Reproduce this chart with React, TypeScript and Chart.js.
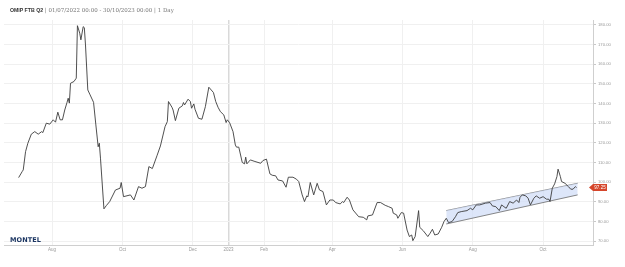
import React, { useEffect, useRef } from 'react';
import { Chart, registerables } from 'chart.js';
Chart.register(...registerables);

// Days since 01/07/2022
const DAYS = [
  2, 5, 6, 8, 10, 13, 16, 19, 22, 23, 26, 29, 32, 34, 36, 38, 40, 42, 44, 45, 46, 47, 50, 52, 53, 55, 56, 58, 59, 60,
  62, 64, 67, 69, 71, 72, 73, 76, 78, 81, 86, 90, 91, 93, 99, 102, 106, 109, 112, 115, 118, 122, 125, 129, 131, 132,
  135, 136, 138, 141, 144, 145, 146, 149, 151, 152, 154, 155, 158, 161, 164, 167, 171, 173, 175, 177, 180, 182, 183,
  185, 188, 190, 191, 193, 196, 198, 199, 200, 203, 207, 212, 214, 217, 220, 222, 225, 227, 231, 234, 236, 240, 243,
  245, 248, 250, 252, 253, 255, 258, 261, 263, 266, 269, 272, 275, 277, 281, 283, 284, 287, 289, 292, 297, 301, 304,
  305, 309, 313, 316, 320, 323, 326, 327, 330, 331, 334, 336, 339, 341, 343, 344, 346, 349, 350, 353, 357, 359, 361,
  363, 366, 369, 371, 373, 375, 378, 381, 383, 386, 391, 394, 396, 399, 402, 407, 411, 413, 416, 419, 421, 423, 425,
  428, 431, 434, 436, 437, 439, 442, 444, 446, 449, 451, 454, 457, 460, 462, 463, 465, 467, 469, 470, 472, 473, 476,
  479, 481, 483, 485, 486,
];
const PRICES = [
  102.3, 105.3, 106.2, 115.5, 119.8, 124.4, 125.7, 124.4, 125.7, 125.2, 130.0, 129.5, 131.7, 130.5, 135.6, 131.7,
  131.7, 136.7, 140.6, 142.7, 140.2, 150.3, 151.2, 152.9, 179.6, 175.8, 172.4, 179.1, 178.6, 169.8, 146.9, 144.4,
  140.6, 129.1, 118.0, 119.8, 112.2, 86.4, 88.0, 90.1, 96.0, 96.9, 99.8, 92.6, 93.5, 90.9, 97.7, 96.9, 97.7, 107.9,
  106.9, 113.4, 118.4, 128.2, 130.8, 141.0, 138.1, 136.7, 131.3, 137.6, 138.8, 140.5, 139.3, 142.2, 141.0, 137.6,
  139.8, 137.1, 132.5, 132.0, 138.4, 148.3, 145.6, 141.0, 138.1, 135.9, 134.2, 130.3, 131.7, 130.3, 125.7, 118.9,
  117.8, 117.8, 110.0, 109.3, 112.7, 109.3, 111.3, 110.5, 109.6, 111.0, 111.7, 104.2, 103.5, 103.2, 101.1, 100.6,
  97.4, 102.5, 102.5, 101.5, 100.3, 93.5, 90.1, 93.0, 92.5, 99.8, 93.5, 99.4, 96.0, 95.2, 88.4, 90.9, 90.9, 89.6,
  88.9, 90.1, 89.6, 92.3, 90.9, 85.9, 82.4, 82.1, 80.8, 82.8, 83.3, 89.6, 89.6, 88.2, 87.5, 86.7, 84.2, 83.3, 81.6,
  84.5, 84.2, 75.6, 72.3, 73.1, 70.2, 72.3, 85.5, 77.0, 75.3, 72.3, 74.0, 76.0, 73.1, 73.6, 77.0, 79.9, 81.6, 79.4,
  79.9, 82.4, 84.5, 85.0, 85.5, 86.7, 85.9, 88.4, 88.4, 89.3, 89.6, 87.9, 87.5, 85.5, 88.4, 87.5, 86.7, 90.1, 89.3,
  90.9, 89.6, 92.3, 93.5, 93.0, 91.8, 88.4, 91.8, 93.0, 91.8, 92.6, 91.3, 91.3, 90.1, 96.9, 99.1, 102.8, 106.6, 102.8,
  100.3, 99.4, 97.7, 96.4, 96.4, 97.7, 97.25,
];

const CHANNEL_DAYS = [373, 487];
const CHANNEL_UPPER = [85.5, 99.4];
const CHANNEL_LOWER = [78.7, 93.5];

const TICK_DAYS = [31, 92, 153, 184, 215, 274, 335, 396, 457];
const TICK_LABELS = ['Aug', 'Oct', 'Dec', '2023', 'Feb', 'Apr', 'Jun', 'Aug', 'Oct'];
const YEAR_TICK = 184;
const Y_TICKS = [70, 80, 90, 100, 110, 120, 130, 140, 150, 160, 170, 180];
const LAST_VALUE = 97.25;

const TITLE_BOLD = 'OMIP FTB Q2';
const TITLE_REST = ' | 01/07/2022 00:00 - 30/10/2023 00:00 | 1 Day';

export default function App() {
  const ref = useRef<HTMLCanvasElement>(null);

  useEffect(() => {
    const lastTag = {
      id: 'lastTag',
      afterDatasetsDraw(chart: any) {
        const ctx = chart.ctx;
        const y = chart.scales.y.getPixelForValue(LAST_VALUE);
        const x0 = chart.chartArea.right - 4;
        ctx.save();
        ctx.fillStyle = '#d5462b';
        ctx.beginPath();
        ctx.moveTo(x0, y);
        ctx.lineTo(x0 + 4, y - 3.5);
        ctx.lineTo(x0 + 18, y - 3.5);
        ctx.lineTo(x0 + 18, y + 3.5);
        ctx.lineTo(x0 + 4, y + 3.5);
        ctx.closePath();
        ctx.fill();
        ctx.fillStyle = '#ffffff';
        ctx.font = '4.5px "Liberation Sans"';
        ctx.textAlign = 'center';
        ctx.textBaseline = 'middle';
        ctx.fillText(LAST_VALUE.toFixed(2), x0 + 11, y + 0.3);
        ctx.restore();
      },
    };

    const chart = new Chart(ref.current!, {
      type: 'line',
      data: {
        datasets: [
          {
            data: CHANNEL_DAYS.map((d, i) => ({ x: d, y: CHANNEL_UPPER[i] })),
            borderColor: '#6a6a6a',
            borderWidth: 0.8,
            pointRadius: 0,
            fill: false,
            order: 2,
          },
          {
            data: CHANNEL_DAYS.map((d, i) => ({ x: d, y: CHANNEL_LOWER[i] })),
            borderColor: '#6a6a6a',
            borderWidth: 0.8,
            pointRadius: 0,
            fill: '-1',
            backgroundColor: 'rgba(206,220,247,0.7)',
            order: 1,
          },
          {
            data: DAYS.map((d, i) => ({ x: d, y: PRICES[i] })),
            borderColor: '#3c3c3c',
            borderWidth: 0.9,
            pointRadius: 0,
            tension: 0,
            fill: false,
            order: 0,
          },
        ],
      },
      options: {
        animation: false,
        responsive: false,
        maintainAspectRatio: false,
        layout: { padding: { left: 4, top: 20, right: 0, bottom: 0 } },
        plugins: { legend: { display: false }, tooltip: { enabled: false } },
        scales: {
          x: {
            type: 'linear',
            min: -10.7,
            max: 500.3,
            afterBuildTicks: (s: any) => {
              s.ticks = TICK_DAYS.map((v) => ({ value: v }));
            },
            afterFit: (s: any) => {
              s.height = 22;
            },
            ticks: {
              autoSkip: false,
              maxRotation: 0,
              padding: 2,
              color: '#999',
              font: { family: 'Liberation Sans', size: 4.5 },
              callback: (v: any) => {
                const i = TICK_DAYS.indexOf(Number(v));
                return i >= 0 ? TICK_LABELS[i] : '';
              },
            },
            grid: {
              drawTicks: false,
              color: (c: any) => (c.tick && c.tick.value === YEAR_TICK ? '#d9d9d9' : '#f0f0f0'),
              lineWidth: (c: any) => (c.tick && c.tick.value === YEAR_TICK ? 1.5 : 1),
            },
            border: { color: '#cfcfcf' },
          },
          y: {
            type: 'linear',
            position: 'right',
            min: 68,
            max: 182.5,
            afterBuildTicks: (s: any) => {
              s.ticks = Y_TICKS.map((v) => ({ value: v }));
            },
            afterFit: (s: any) => {
              s.width = 32;
            },
            ticks: {
              padding: 2,
              color: '#999',
              font: { family: 'Liberation Sans', size: 4.2 },
              callback: (v: any) => Number(v).toFixed(2),
            },
            grid: {
              color: '#f0f0f0',
              drawTicks: true,
              tickLength: 3,
              tickColor: '#c8c8c8',
            },
            border: { color: '#cfcfcf' },
          },
        },
      },
      plugins: [lastTag],
    } as any);
    return () => chart.destroy();
  }, []);

  return (
    <div style={{ position: 'fixed', left: 0, top: 0, width: 625, height: 267, background: '#fff' }}>
      <canvas ref={ref} width={625} height={267} style={{ display: 'block' }} />
      <div
        style={{
          position: 'absolute',
          left: 10,
          top: 7,
          fontSize: '5.5px',
          lineHeight: '6px',
          whiteSpace: 'nowrap',
          color: '#777',
          fontFamily: '"DejaVu Serif", serif',
        }}
      >
        <span style={{ fontFamily: '"Liberation Sans", sans-serif', fontWeight: 'bold', color: '#333', fontSize: '5.2px' }}>
          {TITLE_BOLD}
        </span>
        <span>{TITLE_REST}</span>
      </div>
      <div
        style={{
          position: 'absolute',
          left: 10,
          top: 237,
          fontSize: '6.5px',
          lineHeight: '7px',
          fontWeight: 'bold',
          color: '#1d3763',
          fontFamily: '"DejaVu Sans", sans-serif',
          letterSpacing: '0.1px',
        }}
      >
        MONTEL
      </div>
    </div>
  );
}
